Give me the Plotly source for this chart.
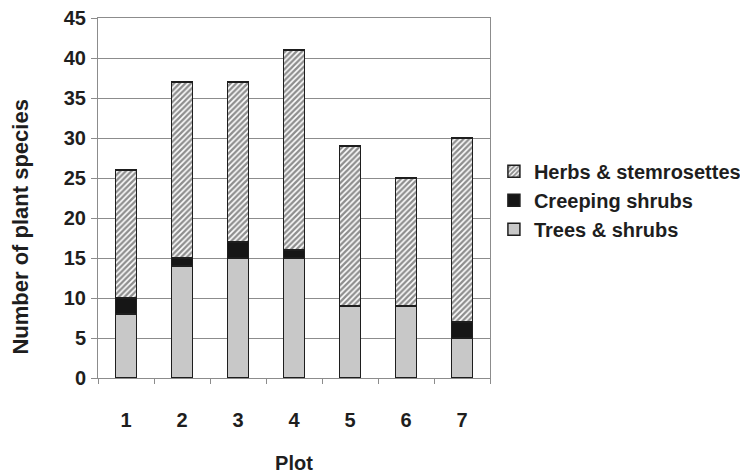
import plotly.graph_objects as go

plots = ["1", "2", "3", "4", "5", "6", "7"]
trees_shrubs = [8, 14, 15, 15, 9, 9, 5]
creeping_shrubs = [2, 1, 2, 1, 0, 0, 2]
herbs_stemrosettes = [16, 22, 20, 25, 20, 16, 23]

FONT = "Liberation Sans"
TXT = "#1e1e1e"
GRID = "#8c8c8c"
EDGE = "#1e1e1e"

fig = go.Figure()
fig.add_trace(go.Bar(
    x=plots, y=trees_shrubs, name="Trees & shrubs", legendgroup="a",
    marker=dict(color="#c8c8c8", line=dict(color=EDGE, width=1.5)),
))
fig.add_trace(go.Bar(
    x=plots, y=creeping_shrubs, name="Creeping shrubs", legendgroup="b",
    marker=dict(color="#161616", line=dict(color=EDGE, width=1.5)),
))
fig.add_trace(go.Bar(
    x=plots, y=herbs_stemrosettes, name="Herbs & stemrosettes", legendgroup="c",
    marker=dict(color="white", line=dict(color=EDGE, width=1.5),
                pattern=dict(shape="/", fgcolor="#1e1e1e", bgcolor="white",
                             size=4, solidity=0.6)),
))

fig.update_layout(
    width=748, height=467,
    barmode="stack", bargap=0.62,
    paper_bgcolor="white", plot_bgcolor="white",
    margin=dict(l=90, r=264, t=10, b=97),
    font=dict(family=FONT, size=20, color=TXT, weight="bold"),
    showlegend=True,
    legend=dict(x=1.01, xanchor="left", y=0.494, yanchor="middle",
                traceorder="reversed", tracegroupgap=15,
                font=dict(family=FONT, size=20, color=TXT, weight="bold"),
                bgcolor="rgba(0,0,0,0)"),
    xaxis=dict(
        type="category", tickson="boundaries", ticks="outside", ticklen=5,
        tickcolor=GRID, tickwidth=1, showline=True, linecolor=GRID, linewidth=1,
        mirror=True, showgrid=False, ticklabelstandoff=24, automargin=False,
        tickfont=dict(family=FONT, size=20, color=TXT, weight="bold"),
        title=dict(text="Plot", standoff=25,
                   font=dict(family=FONT, size=20, color=TXT, weight="bold")),
    ),
    yaxis=dict(
        range=[0, 45], dtick=5, tick0=0, ticks="outside", ticklen=6,
        tickcolor=GRID, tickwidth=1, showline=True, linecolor=GRID, linewidth=1,
        mirror=True, showgrid=True, gridcolor=GRID, gridwidth=1,
        zeroline=False, ticklabelstandoff=1, automargin=False,
        ticklabeloverflow="allow",
        tickfont=dict(family=FONT, size=20, color=TXT, weight="bold"),
    ),
    annotations=[dict(
        text="Number of plant species", textangle=-90,
        xref="paper", yref="paper", x=-0.197, y=0.42,
        xanchor="center", yanchor="middle", showarrow=False,
        font=dict(family=FONT, size=22, color=TXT, weight="bold"),
    )],
)

fig.write_html("out.html")
